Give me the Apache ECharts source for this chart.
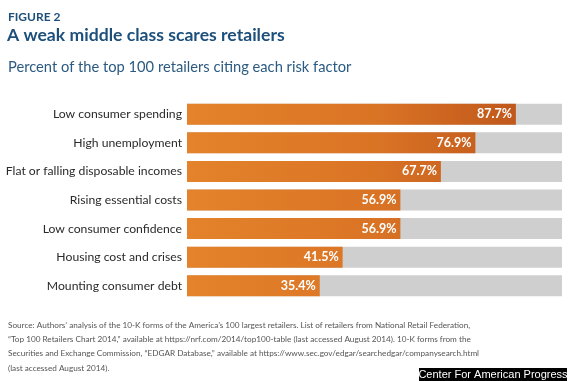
<!DOCTYPE html>
<html><head><meta charset="utf-8">
<script src="https://cdn.jsdelivr.net/npm/echarts@6/dist/echarts.min.js"></script>
<style>html,body{margin:0;padding:0;background:#fff}#c{width:570px;height:381px}</style>
</head><body><div id="c"></div>
<script>
var categories = ["Low consumer spending","High unemployment","Flat or falling disposable incomes","Rising essential costs","Low consumer confidence","Housing cost and crises","Mounting consumer debt"];
var values = [87.7, 76.9, 67.7, 56.9, 56.9, 41.5, 35.4];
var sourceLines = [
 "Source: Authors\u2019 analysis of the 10-K forms of the America\u2019s 100 largest retailers. List of retailers from National Retail Federation,",
 "\u201CTop 100 Retailers Chart 2014,\u201D available at https://nrf.com/2014/top100-table (last accessed August 2014). 10-K forms from the",
 "Securities and Exchange Commission, \u201CEDGAR Database,\u201D available at https://www.sec.gov/edgar/searchedgar/companysearch.html",
 "(last accessed August 2014)."
];
var F = "Lato, 'Open Sans', sans-serif";
var chart = echarts.init(document.getElementById('c'));
chart.setOption({
  animation:false,
  title:[
    {text:"FIGURE 2", left:8, top:11, padding:0, textStyle:{fontFamily:F, fontSize:12, fontWeight:'bold', color:'#1d4f7b'}},
    {text:"A weak middle class scares retailers", left:7, top:26, padding:0, textStyle:{fontFamily:F, fontSize:17.6, fontWeight:'bold', color:'#1d4f7b'}},
    {text:"Percent of the top 100 retailers citing each risk factor", left:8, top:60, padding:0, textStyle:{fontFamily:F, fontSize:14.7, fontWeight:'normal', color:'#2b5a82'}},
    {text:sourceLines.join("\n"), left:8, top:318, padding:0, textStyle:{fontFamily:F, fontSize:8.2, lineHeight:14.3, fontWeight:'normal', color:'#555'}}
  ],
  graphic:[
    {type:'rect', shape:{x:419, y:368, width:148, height:13}, style:{fill:'#000'}},
    {type:'text', x:493, y:374.5, style:{text:"Center For American Progress", fill:'#fff', font:"11px 'Liberation Sans', Arial, sans-serif", align:'center', verticalAlign:'middle'}}
  ],
  grid:{left:187, right:8, top:100, bottom:81, outerBoundsMode:'none', containLabel:false},
  xAxis:{type:'value', min:0, max:100, show:false},
  yAxis:{type:'category', data:categories, inverse:true,
    axisLine:{show:false}, axisTick:{show:false},
    axisLabel:{fontFamily:F, fontSize:12.2, color:'#2a2a2a', margin:5}},
  series:[{
    type:'bar', data:values, barWidth:21,
    showBackground:true, backgroundStyle:{color:'#cfcfcf'},
    itemStyle:{color:new echarts.graphic.LinearGradient(187,0,562,0,[{offset:0,color:'#e4832b'},{offset:0.5,color:'#da7425'},{offset:0.9,color:'#bf561b'},{offset:1,color:'#b8521a'}],true)},
    label:{show:true, position:'insideRight', distance:4, formatter:function(p){return p.value.toFixed(1)+'%';},
      fontFamily:F, fontSize:12.5, fontWeight:'bold', color:'#fff'}
  }]
});
</script></body></html>
